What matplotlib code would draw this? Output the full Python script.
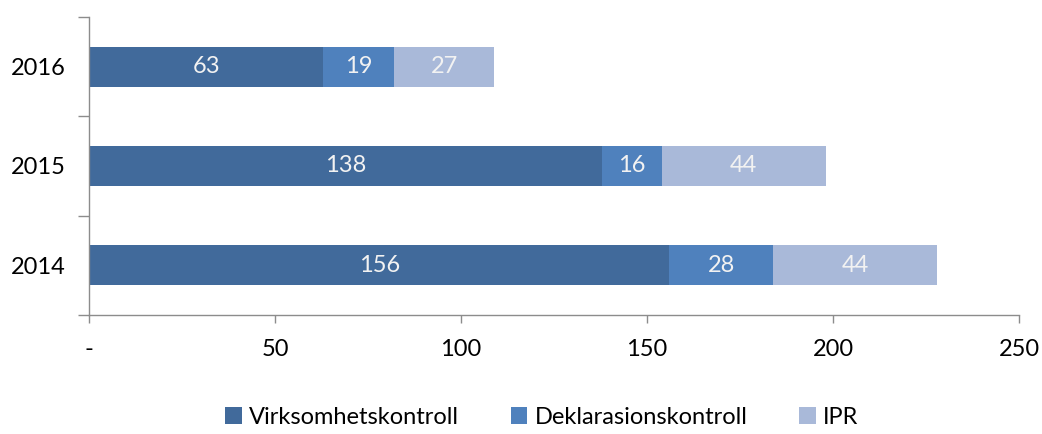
import matplotlib

matplotlib.use("Agg")
import matplotlib.pyplot as plt
from matplotlib.ticker import FuncFormatter

years = ["2014", "2015", "2016"]
virksomhet = [156, 138, 63]
deklarasjon = [28, 16, 19]
ipr = [44, 44, 27]

series = [
    ("Virksomhetskontroll", virksomhet, "#416a9b"),
    ("Deklarasionskontroll", deklarasjon, "#4f81bd"),
    ("IPR", ipr, "#a9b9d9"),
]

plt.rcParams["font.family"] = ["Lato", "DejaVu Sans"]

fig = plt.figure(figsize=(10.42, 4.34), dpi=100, facecolor="white")
ax = fig.add_axes([89 / 1042, 1 - 315 / 434, 930 / 1042, 298 / 434])

left = [0] * len(years)
ypos = list(range(len(years)))
for name, vals, col in series:
    bars = ax.barh(ypos, vals, left=left, height=0.4, color=col, label=name)
    for b, v in zip(bars, vals):
        ax.text(b.get_x() + b.get_width() / 2, b.get_y() + b.get_height() / 2, str(v),
                ha="center", va="center", color="#f2f2f2", fontsize=17)
    left = [l + v for l, v in zip(left, vals)]

ax.set_xlim(0, 250)
ax.set_ylim(-0.5, 2.5)
ax.set_xticks([0, 50, 100, 150, 200, 250])
ax.xaxis.set_major_formatter(FuncFormatter(lambda v, p: "-" if v == 0 else f"{v:.0f}"))
ax.set_yticks(ypos)
ax.set_yticklabels(years)
ax.set_yticks([-0.5, 0.5, 1.5, 2.5], minor=True)

for s in ["top", "right"]:
    ax.spines[s].set_visible(False)
for s in ["left", "bottom"]:
    ax.spines[s].set_color("#8c8c8c")
    ax.spines[s].set_linewidth(1)

ax.tick_params(axis="x", length=6, width=1, color="#8c8c8c", pad=11, labelsize=17, labelcolor="black")
ax.tick_params(axis="y", which="major", length=0, pad=17, labelsize=17, labelcolor="black")
ax.tick_params(axis="y", which="minor", length=8, width=1, color="#8c8c8c")

fig.legend(loc="lower center", bbox_to_anchor=(0.52, -0.035), ncol=3, frameon=False,
           fontsize=17, handlelength=0.7, handleheight=0.7, handletextpad=0.3,
           columnspacing=2.2)

fig.savefig("out.png", dpi=100, facecolor="white")
